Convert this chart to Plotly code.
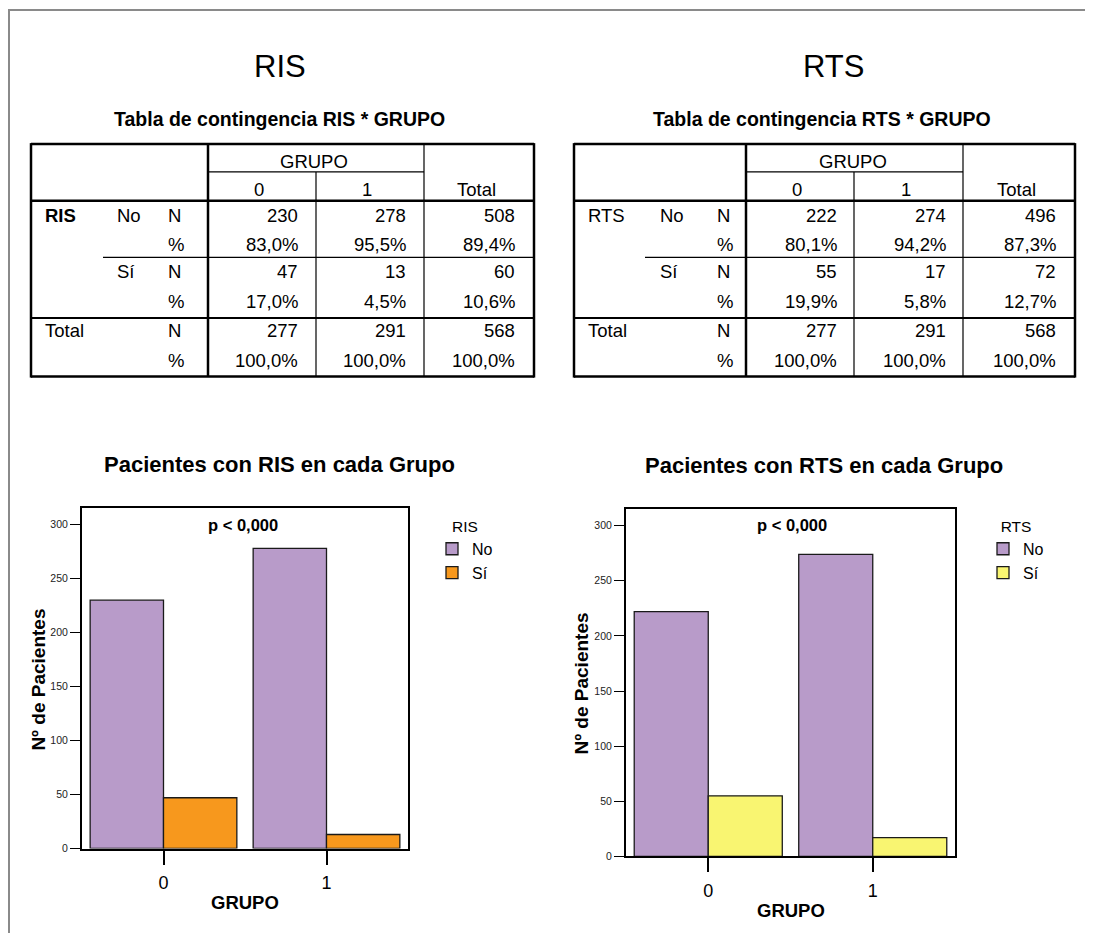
import plotly.graph_objects as go

# page is rendered with an 8px body margin; compensate and keep the page from overflowing
OFF = 8
W, H = 1093 - OFF, 925

# ---------------- data ----------------
groups = [0, 1]
group_labels = ["0", "1"]
y_ticks = [0, 50, 100, 150, 200, 250, 300]

ris_no = [230, 278]
ris_si = [47, 13]
rts_no = [222, 274]
rts_si = [55, 17]

col_headers = ["0", "1", "Total"]
ris_n_no = ["230", "278", "508"]
ris_pct_no = ["83,0%", "95,5%", "89,4%"]
ris_n_si = ["47", "13", "60"]
ris_pct_si = ["17,0%", "4,5%", "10,6%"]
rts_n_no = ["222", "274", "496"]
rts_pct_no = ["80,1%", "94,2%", "87,3%"]
rts_n_si = ["55", "17", "72"]
rts_pct_si = ["19,9%", "5,8%", "12,7%"]
tot_n = ["277", "291", "568"]
tot_pct = ["100,0%", "100,0%", "100,0%"]

PURPLE = "#B89BC9"
ORANGE = "#F7981D"
YELLOW = "#F9F571"
FONT = "Arial, Liberation Sans, sans-serif"
TFS = 18.5  # table font size


def px(x):
    return (x - OFF) / W


def py(y):
    return 1 - (y - OFF) / H


shapes = []
annotations = []


def line(x0, y0, x1, y1, w=1.0, color="black"):
    shapes.append(dict(type="line", xref="paper", yref="paper",
                       x0=px(x0), y0=py(y0), x1=px(x1), y1=py(y1),
                       line=dict(color=color, width=w)))


def text(x, y, s, size=TFS, bold=False, xanchor="center", color="black", angle=0):
    annotations.append(dict(xref="paper", yref="paper", x=px(x), y=py(y),
                            text=f"<b>{s}</b>" if bold else s, showarrow=False,
                            xanchor=xanchor, yanchor="middle", textangle=angle,
                            font=dict(family=FONT, size=size, color=color)))


# page frame
line(9, 10, 9, 960, w=2, color="#8a8a8a")
line(8, 10, 1100, 10, w=2, color="#8a8a8a")


def draw_table(cx_big, cx_tab, var, var_bold, xs, xmid, lab_x, vals_right,
               n_no, pct_no, n_si, pct_si):
    x0, x1, x2, x3, x4 = xs
    y0, yg, yh, ymid, ys, yb = 145, 173, 202, 259, 320, 379
    text(cx_big, 67, var, size=31)
    text(cx_tab, 120, "Tabla de contingencia " + var + " * GRUPO", size=19.5, bold=True)
    # borders
    line(x0, y0, x4, y0, 2.5)
    line(x0, yb, x4, yb, 2.5)
    line(x0, y0 - 1, x0, yb + 1, 2.5)
    line(x4, y0 - 1, x4, yb + 1, 2.5)
    line(x1, y0, x1, yb, 2.5)
    line(x2, yg, x2, yb, 1.2)
    line(x3, y0, x3, yb, 1.2)
    line(x1, yg, x3, yg, 1.2)
    line(x0, yh, x4, yh, 2.5)
    line(xmid, ymid, x4, ymid, 1.2)
    line(x0, ys, x4, ys, 2)
    # header
    text((x1 + x3) / 2 - 2, 163, "GRUPO")
    for i, h in enumerate(col_headers):
        text(((x1, x2, x3)[i] + (x2, x3, x4)[i]) / 2 - 3, 191, h)
    # labels
    lx_var, lx_cat, lx_stat = lab_x
    text(lx_var, 217, var, bold=var_bold, xanchor="left")
    text(lx_cat, 217, "No", xanchor="left")
    text(lx_cat, 273, "Sí", xanchor="left")
    text(lx_var, 333, "Total", xanchor="left")
    row_y = [217, 246, 273, 303, 333, 363]
    for yy, st in zip(row_y, ["N", "%", "N", "%", "N", "%"]):
        text(lx_stat, yy, st, xanchor="left")
    rows = [n_no, pct_no, n_si, pct_si, tot_n, tot_pct]
    for yy, row in zip(row_y, rows):
        for xr, v in zip(vals_right, row):
            text(xr, yy, v, xanchor="right")


draw_table(280, 279, "RIS", True, (31, 208, 316, 424, 534), 103,
           (43, 115, 166), (300, 408, 517),
           ris_n_no, ris_pct_no, ris_n_si, ris_pct_si)
draw_table(833, 822, "RTS", False, (574, 746, 854, 963, 1075), 645,
           (586, 658, 715), (839, 948, 1058),
           rts_n_no, rts_pct_no, rts_n_si, rts_pct_si)

# ---------------- bar charts ----------------
fig = go.Figure()
bar_line = dict(color="#1a1a1a", width=1.3)
fig.add_trace(go.Bar(x=groups, y=ris_no, name="No", marker=dict(color=PURPLE, line=bar_line),
                     xaxis="x", yaxis="y", legend="legend"))
fig.add_trace(go.Bar(x=groups, y=ris_si, name="Sí", marker=dict(color=ORANGE, line=bar_line),
                     xaxis="x", yaxis="y", legend="legend"))
fig.add_trace(go.Bar(x=groups, y=rts_no, name="No", marker=dict(color=PURPLE, line=bar_line),
                     xaxis="x2", yaxis="y2", legend="legend2"))
fig.add_trace(go.Bar(x=groups, y=rts_si, name="Sí", marker=dict(color=YELLOW, line=bar_line),
                     xaxis="x2", yaxis="y2", legend="legend2"))


def xax(dom, anchor):
    return dict(domain=dom, anchor=anchor, range=[-0.5, 1.5], tickvals=groups,
                ticktext=group_labels, showline=True, mirror=True, linecolor="black",
                linewidth=2, ticks="outside", ticklen=14, tickwidth=1.5, tickcolor="black",
                ticklabelstandoff=3,
                tickfont=dict(family=FONT, size=18, color="black"),
                showgrid=False, zeroline=False)


def yax(dom, anchor, top):
    return dict(domain=dom, anchor=anchor, range=[0, top], tickvals=y_ticks,
                showline=True, mirror=True, linecolor="black", linewidth=2,
                ticks="outside", ticklen=10, tickwidth=1.2, tickcolor="black",
                tickfont=dict(family=FONT, size=10.5, color="#222"),
                showgrid=False, zeroline=False)


# chart annotations
text(279, 467, "Pacientes con RIS en cada Grupo", size=22, bold=True)
text(824, 468, "Pacientes con RTS en cada Grupo", size=22, bold=True)
text(243, 528, "p &lt; 0,000", size=16.5, bold=True)
text(792, 528, "p &lt; 0,000", size=16.5, bold=True)
text(245, 908, "GRUPO", size=18.5, bold=True)
text(791, 916, "GRUPO", size=18.5, bold=True)
text(39, 684, "Nº de Pacientes", size=19, bold=True, angle=-90)
text(582, 688, "Nº de Pacientes", size=19, bold=True, angle=-90)

leg_common = dict(xref="paper", yref="paper", xanchor="left", yanchor="top",
                  bgcolor="rgba(0,0,0,0)", font=dict(family=FONT, size=16, color="black"),
                  itemclick=False, itemdoubleclick=False)

fig.update_layout(
    width=W, height=H, margin=dict(l=0, r=0, t=0, b=0),
    paper_bgcolor="white", plot_bgcolor="white",
    barmode="group", bargap=0.1, bargroupgap=0,
    xaxis=xax([px(82), px(408)], "y"),
    yaxis=yax([py(854), py(511)], "x", 315.6),
    xaxis2=xax([px(626), px(955)], "y2"),
    yaxis2=yax([py(862), py(512)], "x2", 315.3),
    legend=dict(x=px(432), y=py(515), title=dict(text="RIS", side="top center",
                font=dict(family=FONT, size=15.5)), **leg_common),
    legend2=dict(x=px(983), y=py(515), title=dict(text="RTS", side="top center",
                 font=dict(family=FONT, size=15.5)), **leg_common),
    shapes=shapes, annotations=annotations, showlegend=True,
)

fig.write_html("out.html")
